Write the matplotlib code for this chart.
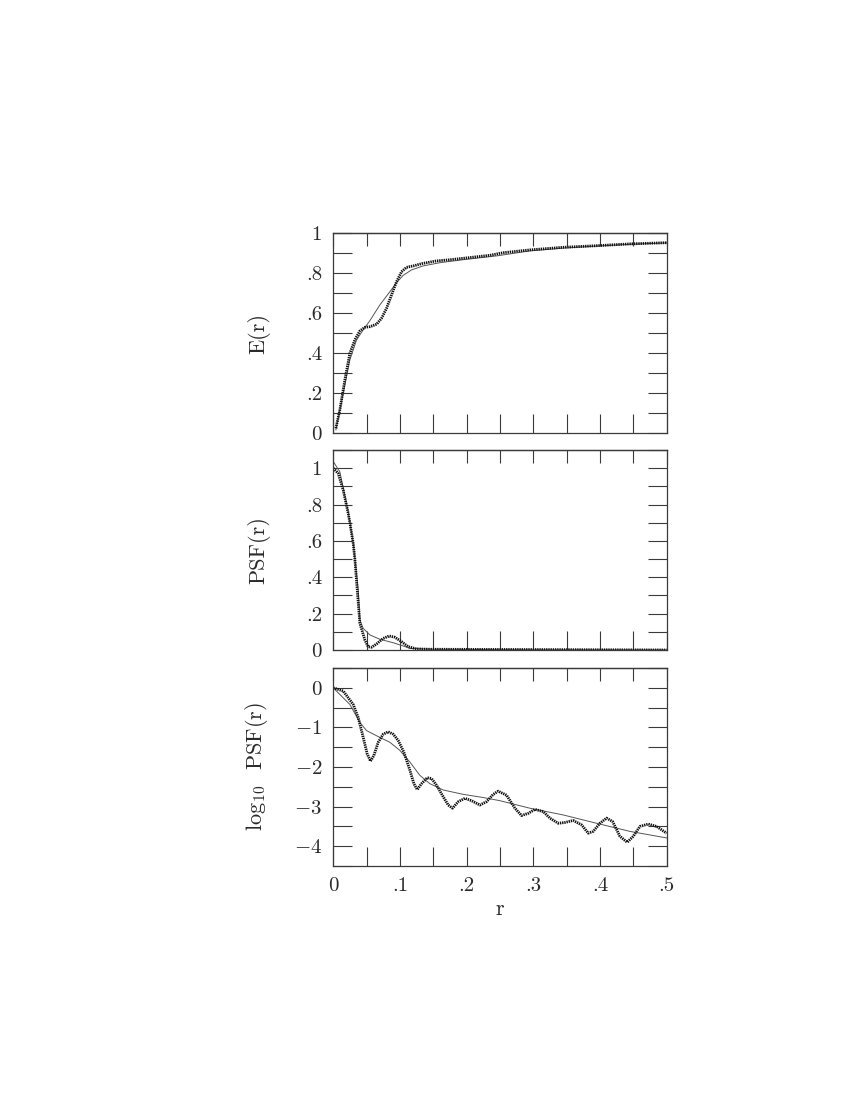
import matplotlib
matplotlib.use("Agg")
import matplotlib.pyplot as plt
from matplotlib.ticker import MultipleLocator, FuncFormatter

plt.rcParams['mathtext.fontset'] = 'cm'
plt.rcParams['font.family'] = ['cmr10', 'DejaVu Serif']

# encircled energy E(r): measured (thick dotted) and model (thin)
r_E = [0.004, 0.01, 0.0175, 0.025, 0.0325, 0.04, 0.0475, 0.055, 0.065, 0.0725,
       0.08, 0.0875, 0.095, 0.1025, 0.11, 0.12, 0.135, 0.155, 0.1725, 0.195,
       0.235, 0.255, 0.295, 0.345, 0.395, 0.445, 0.5]
E_data = [0.025, 0.117, 0.267, 0.40, 0.467, 0.512, 0.53, 0.533, 0.545, 0.575,
          0.625, 0.692, 0.758, 0.808, 0.83, 0.837, 0.85, 0.862, 0.867, 0.875,
          0.89, 0.903, 0.917, 0.93, 0.938, 0.947, 0.953]
r_Em = [0.004, 0.015, 0.025, 0.035, 0.045, 0.055, 0.07, 0.085, 0.095, 0.105,
        0.1175, 0.135, 0.16, 0.195, 0.245, 0.295, 0.345, 0.395, 0.445, 0.5]
E_model = [0.017, 0.20, 0.367, 0.467, 0.517, 0.563, 0.642, 0.708, 0.753, 0.79,
           0.817, 0.837, 0.853, 0.868, 0.887, 0.912, 0.926, 0.936, 0.945, 0.952]

# PSF(r), linear
r_P = [0.0, 0.0075, 0.015, 0.0225, 0.025, 0.03, 0.0325, 0.04, 0.0475, 0.0525,
       0.0575, 0.065, 0.075, 0.084, 0.0925, 0.1025, 0.1125, 0.125, 0.145, 0.245, 0.5]
P_data = [1.0, 0.972, 0.88, 0.752, 0.70, 0.587, 0.50, 0.147, 0.055, 0.018,
          0.015, 0.033, 0.064, 0.077, 0.07, 0.046, 0.018, 0.006, 0.004, 0.003, 0.0]
r_Pm = [0.0, 0.01, 0.0225, 0.03, 0.0375, 0.04, 0.045, 0.055, 0.07, 0.09,
        0.105, 0.115, 0.15, 0.3, 0.5]
P_model = [1.037, 0.98, 0.76, 0.59, 0.33, 0.165, 0.119, 0.083, 0.059, 0.04,
           0.022, 0.009, 0.004, 0.001, 0.0002]

# log10 PSF(r)
r_L = [0.0, 0.015, 0.03, 0.0375, 0.045, 0.051, 0.056, 0.061, 0.0675, 0.075,
       0.0825, 0.09, 0.0975, 0.106, 0.115, 0.121, 0.126, 0.1325, 0.141, 0.1475,
       0.155, 0.165, 0.1725, 0.179, 0.1875, 0.1975, 0.2075, 0.22, 0.23, 0.24,
       0.2475, 0.26, 0.2725, 0.2825, 0.2925, 0.3025, 0.315, 0.325, 0.3375, 0.3475,
       0.36, 0.3725, 0.3825, 0.39, 0.4, 0.41, 0.419, 0.43, 0.441, 0.45,
       0.46, 0.4725, 0.485, 0.5]
L_data = [0.0, -0.08, -0.42, -0.75, -1.25, -1.67, -1.85, -1.71, -1.375, -1.17,
          -1.11, -1.17, -1.33, -1.625, -2.08, -2.42, -2.57, -2.42, -2.27, -2.29,
          -2.46, -2.75, -2.96, -3.04, -2.875, -2.79, -2.85, -2.96, -2.875, -2.69,
          -2.61, -2.71, -3.04, -3.225, -3.17, -3.07, -3.125, -3.29, -3.42, -3.4,
          -3.35, -3.46, -3.67, -3.625, -3.42, -3.29, -3.375, -3.75, -3.9, -3.75,
          -3.5, -3.44, -3.5, -3.67]
r_Lm = [0.0, 0.025, 0.04, 0.05, 0.065, 0.085, 0.1, 0.115, 0.13, 0.145,
        0.165, 0.195, 0.225, 0.25, 0.295, 0.345, 0.395, 0.445, 0.5]
L_model = [0.0, -0.42, -0.875, -1.08, -1.21, -1.375, -1.58, -1.875, -2.21, -2.42,
           -2.58, -2.69, -2.77, -2.85, -3.04, -3.21, -3.42, -3.625, -3.79]

xticks = [0, 0.1, 0.2, 0.3, 0.4, 0.5]


def fmt(v, pos):
    if abs(v) < 1e-9:
        return '0'
    if abs(v - round(v)) < 1e-9:
        if v < 0:
            return r'$-%d$' % round(-v)
        return '%d' % round(v)
    return ('%.1f' % v).lstrip('0')


fig = plt.figure(figsize=(8.5, 11), dpi=100)
boxes = [[0.392, 0.6061, 0.3922, 0.1818],
         [0.392, 0.4091, 0.3922, 0.1818],
         [0.392, 0.2127, 0.3922, 0.1800]]
axes = [fig.add_axes(b) for b in boxes]

series = [(r_E, E_data, r_Em, E_model),
          (r_P, P_data, r_Pm, P_model),
          (r_L, L_data, r_Lm, L_model)]
ylims = [(0, 1), (0, 1.1), (-4.5, 0.5)]
ymaj = [0.2, 0.2, 1]
ymin = [0.1, 0.1, 0.5]
ylabels = ['E(r)', 'PSF(r)', r'log$_{10}$  PSF(r)']

tc = '#3a3a3a'
for i, ax in enumerate(axes):
    rd, yd, rm, ym = series[i]
    ax.plot(rm, ym, color='#555555', lw=0.7)
    ax.plot(rd, yd, color='#111111', lw=2.0, ls=(0, (0.5, 0.3)))
    ax.set_xlim(0, 0.5)
    ax.set_ylim(*ylims[i])
    ax.xaxis.set_major_locator(MultipleLocator(0.1))
    ax.xaxis.set_minor_locator(MultipleLocator(0.05))
    ax.yaxis.set_major_locator(MultipleLocator(ymaj[i]))
    ax.yaxis.set_minor_locator(MultipleLocator(ymin[i]))
    ax.yaxis.set_major_formatter(FuncFormatter(fmt))
    ax.xaxis.set_major_formatter(FuncFormatter(fmt))
    ax.tick_params(which='both', direction='in', length=14, width=0.8,
                   color=tc, left=True, right=True, top=False, bottom=True,
                   labelsize=15, labelcolor='#2a2a2a', pad=8)
    if i < 2:
        ax.tick_params(labelbottom=False)
    for sp in ax.spines.values():
        sp.set_color(tc)
        sp.set_linewidth(0.9)
    # shorter ticks along the top edge
    top = ax.secondary_xaxis('top')
    top.xaxis.set_major_locator(MultipleLocator(0.1))
    top.xaxis.set_minor_locator(MultipleLocator(0.05))
    top.tick_params(which='both', direction='in', length=9, width=0.8,
                    color=tc, labeltop=False)
    top.spines['top'].set_color(tc)
    top.spines['top'].set_linewidth(0.9)
    ax.set_ylabel(ylabels[i], fontsize=16, color='#2a2a2a')
    ax.yaxis.set_label_coords(-0.19, 0.5)

axes[2].set_xlabel('r', fontsize=16, color='#2a2a2a')
axes[2].xaxis.set_label_coords(0.5, -0.17)
axes[2].set_xticks(xticks)

fig.savefig('out.png', dpi=100)
